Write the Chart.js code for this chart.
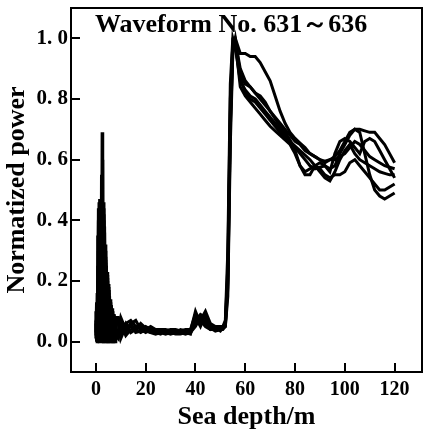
<!DOCTYPE html>
<html>
<head>
<meta charset="utf-8">
<script src="https://cdn.jsdelivr.net/npm/chart.js@4/dist/chart.umd.min.js"></script>
<style>
html,body{margin:0;padding:0;background:#fff;}
canvas{display:block;}
</style>
</head>
<body>
<canvas id="c" width="425" height="430"></canvas>
<script>
// Sea depth (m) sample positions shared by all waveforms
const depth = [0,0.25,0.5,0.75,1,1.25,1.5,1.75,2,2.25,2.5,2.75,3,3.25,3.5,3.75,4,4.25,4.5,4.75,5,5.25,5.5,5.75,6,6.25,6.5,6.75,7,7.25,7.5,7.75,8,
  9,10,12,14,16,18,20,22,24,26,28,30,32,34,36,38,40,42,44,46,48,50,
  51,52,53,54,55,56,
  58,60,62,64,66,68,70,72,74,76,78,80,82,84,86,88,90,92,94,96,98,100,102,104,106,108,110,112,114,116,118,120];

const wave631 = [0.10,0.01,0.16,0.02,0.44,0.01,0.47,0.02,0.40,0.03,0.69,0.02,0.46,0.01,0.38,0.02,0.28,0.01,0.23,0.02,0.19,0.01,0.15,0.02,0.13,0.01,0.11,0.02,0.09,0.01,0.085,0.02,0.08,
  0.08,0.02,0.06,0.07,0.05,0.05,0.04,0.05,0.04,0.04,0.035,0.04,0.04,0.035,0.04,0.04,0.09,0.07,0.10,0.06,0.05,0.045,
  0.05,0.06,0.25,0.80,0.98,1.00,
  0.95,0.95,0.94,0.94,0.92,0.89,0.86,0.81,0.76,0.72,0.69,0.67,0.655,0.64,0.62,0.61,0.60,0.595,0.60,0.61,0.63,0.66,0.69,0.70,0.70,0.695,0.69,0.69,0.67,0.65,0.62,0.59];

const wave632 = [0.02,0.13,0.01,0.35,0.02,0.46,0.01,0.46,0.02,0.55,0.01,0.60,0.02,0.44,0.01,0.32,0.02,0.25,0.01,0.21,0.02,0.17,0.01,0.14,0.02,0.12,0.01,0.10,0.02,0.09,0.01,0.08,0.02,
  0.01,0.07,0.03,0.06,0.07,0.04,0.05,0.04,0.035,0.04,0.04,0.035,0.03,0.04,0.035,0.03,0.07,0.09,0.08,0.05,0.04,0.04,
  0.045,0.05,0.15,0.65,0.95,0.99,
  0.90,0.86,0.84,0.82,0.80,0.78,0.76,0.735,0.71,0.69,0.665,0.63,0.58,0.55,0.55,0.58,0.59,0.58,0.57,0.58,0.62,0.65,0.68,0.70,0.69,0.62,0.55,0.50,0.48,0.47,0.48,0.49];

const wave633 = [0.06,0.00,0.12,0.00,0.40,0.00,0.42,0.30,0.00,0.45,0.00,0.40,0.00,0.42,0.30,0.00,0.26,0.00,0.20,0.00,0.17,0.00,0.13,0.00,0.12,0.00,0.10,0.00,0.08,0.00,0.07,0.00,0.06,
  0.07,0.01,0.05,0.05,0.04,0.06,0.045,0.035,0.04,0.03,0.03,0.03,0.035,0.03,0.03,0.035,0.10,0.06,0.07,0.04,0.04,0.05,
  0.05,0.07,0.30,0.85,1.00,0.97,
  0.86,0.83,0.81,0.80,0.78,0.76,0.74,0.72,0.70,0.68,0.66,0.645,0.63,0.615,0.60,0.58,0.56,0.54,0.53,0.56,0.60,0.63,0.65,0.62,0.60,0.59,0.58,0.57,0.56,0.555,0.55,0.55];

const wave634 = [0.03,0.08,0.02,0.25,0.03,0.38,0.00,0.44,0.03,0.36,0.01,0.35,0.02,0.34,0.00,0.30,0.03,0.22,0.00,0.19,0.01,0.15,0.02,0.12,0.00,0.11,0.03,0.09,0.00,0.08,0.02,0.07,0.03,
  0.02,0.06,0.02,0.04,0.05,0.04,0.03,0.04,0.03,0.035,0.03,0.025,0.03,0.03,0.025,0.03,0.05,0.08,0.06,0.045,0.035,0.04,
  0.04,0.05,0.18,0.70,0.96,1.00,
  0.88,0.85,0.84,0.82,0.81,0.79,0.76,0.74,0.72,0.70,0.68,0.66,0.65,0.63,0.62,0.61,0.60,0.59,0.60,0.60,0.61,0.62,0.64,0.66,0.65,0.63,0.61,0.60,0.59,0.58,0.575,0.57];

const wave635 = [0.07,0.03,0.10,0.01,0.30,0.02,0.40,0.01,0.46,0.00,0.42,0.03,0.38,0.00,0.36,0.01,0.27,0.00,0.22,0.01,0.18,0.00,0.14,0.01,0.12,0.00,0.10,0.01,0.09,0.00,0.08,0.01,0.07,
  0.06,0.03,0.06,0.03,0.04,0.03,0.04,0.03,0.025,0.03,0.025,0.03,0.025,0.025,0.03,0.025,0.08,0.05,0.09,0.05,0.045,0.035,
  0.045,0.06,0.22,0.75,0.99,0.98,
  0.87,0.82,0.80,0.79,0.77,0.75,0.73,0.71,0.69,0.67,0.655,0.64,0.62,0.60,0.58,0.57,0.575,0.58,0.56,0.62,0.66,0.67,0.66,0.64,0.62,0.66,0.67,0.66,0.63,0.60,0.57,0.54];

const wave636 = [0.01,0.10,0.00,0.20,0.01,0.43,0.02,0.38,0.01,0.40,0.02,0.45,0.00,0.40,0.02,0.25,0.00,0.24,0.02,0.17,0.00,0.16,0.02,0.12,0.01,0.10,0.00,0.09,0.02,0.07,0.00,0.06,0.02,
  0.03,0.08,0.04,0.06,0.03,0.035,0.035,0.03,0.03,0.025,0.035,0.03,0.03,0.03,0.035,0.03,0.06,0.07,0.05,0.04,0.05,0.05,
  0.05,0.055,0.20,0.72,0.97,0.99,
  0.84,0.81,0.79,0.77,0.75,0.73,0.71,0.695,0.68,0.665,0.65,0.62,0.58,0.56,0.57,0.58,0.57,0.55,0.54,0.55,0.55,0.56,0.59,0.60,0.58,0.56,0.54,0.52,0.50,0.50,0.51,0.52];

const waveNames = ['631','632','633','634','635','636'];
const waves = [wave631, wave632, wave633, wave634, wave635, wave636];

const xTickValues = [0,20,40,60,80,100,120];
const yTickValues = [0,0.2,0.4,0.6,0.8,1.0];
const yTickLabels = ['0. 0','0. 2','0. 4','0. 6','0. 8','1. 0'];

const chartTitle = 'Waveform No. 631～636';
const xTitle = 'Sea depth/m';
const yTitle = 'Normatized power';

const SERIF = "'Liberation Serif','Times New Roman',serif";

const framePlugin = {
  id: 'frameAndTitle',
  afterDraw(chart) {
    const {ctx, chartArea: a} = chart;
    ctx.save();
    ctx.strokeStyle = '#000';
    ctx.lineWidth = 2;
    ctx.strokeRect(a.left, a.top, a.right - a.left, a.bottom - a.top);
    ctx.fillStyle = '#000';
    ctx.font = "bold 26px " + SERIF;
    ctx.textBaseline = 'middle';
    ctx.textAlign = 'left';
    ctx.fillText(chartTitle, a.left + 24, a.top + 17);
    ctx.restore();
  }
};

const datasets = waves.map((w, k) => ({
  label: 'No. ' + waveNames[k],
  data: depth.map((d, i) => ({x: d, y: w[i]})),
  borderColor: '#000',
  borderWidth: 3,
  pointRadius: 0,
  tension: 0,
  fill: false
}));

new Chart(document.getElementById('c'), {
  type: 'line',
  data: {datasets},
  plugins: [framePlugin],
  options: {
    responsive: false,
    animation: false,
    devicePixelRatio: 1,
    layout: {padding: {top: 8, right: 3, left: 0, bottom: 0}},
    plugins: {legend: {display: false}, tooltip: {enabled: false}},
    scales: {
      x: {
        type: 'linear',
        min: -10, max: 131,
        afterBuildTicks: s => { s.ticks = xTickValues.map(v => ({value: v})); },
        afterFit: s => { s.height = 58; s.paddingLeft = 0; s.paddingRight = 0; },
        border: {display: false},
        grid: {drawOnChartArea: false, drawTicks: true, tickLength: -9, lineWidth: 2, color: '#000'},
        ticks: {color: '#000', padding: 15, maxRotation: 0, autoSkip: false,
          font: {family: SERIF, weight: 'bold', size: 20}},
        title: {display: true, text: xTitle, color: '#000', padding: {top: 0, bottom: 0},
          font: {family: SERIF, weight: 'bold', size: 26, lineHeight: 1.0}}
      },
      y: {
        type: 'linear',
        min: -0.1, max: 1.1,
        afterBuildTicks: s => { s.ticks = yTickValues.map(v => ({value: v})); },
        afterFit: s => { s.width = 71; s.paddingTop = 0; s.paddingBottom = 0; },
        border: {display: false},
        grid: {drawOnChartArea: false, drawTicks: true, tickLength: -9, lineWidth: 2, color: '#000'},
        ticks: {color: '#000', padding: 12, autoSkip: false,
          callback: (v) => { const i = yTickValues.findIndex(t => Math.abs(t - v) < 1e-9); return i >= 0 ? yTickLabels[i] : ''; },
          font: {family: SERIF, weight: 'bold', size: 21}},
        title: {display: true, text: yTitle, color: '#000', padding: {top: 2, bottom: 0},
          font: {family: SERIF, weight: 'bold', size: 26}}
      }
    }
  }
});
</script>
</body>
</html>
